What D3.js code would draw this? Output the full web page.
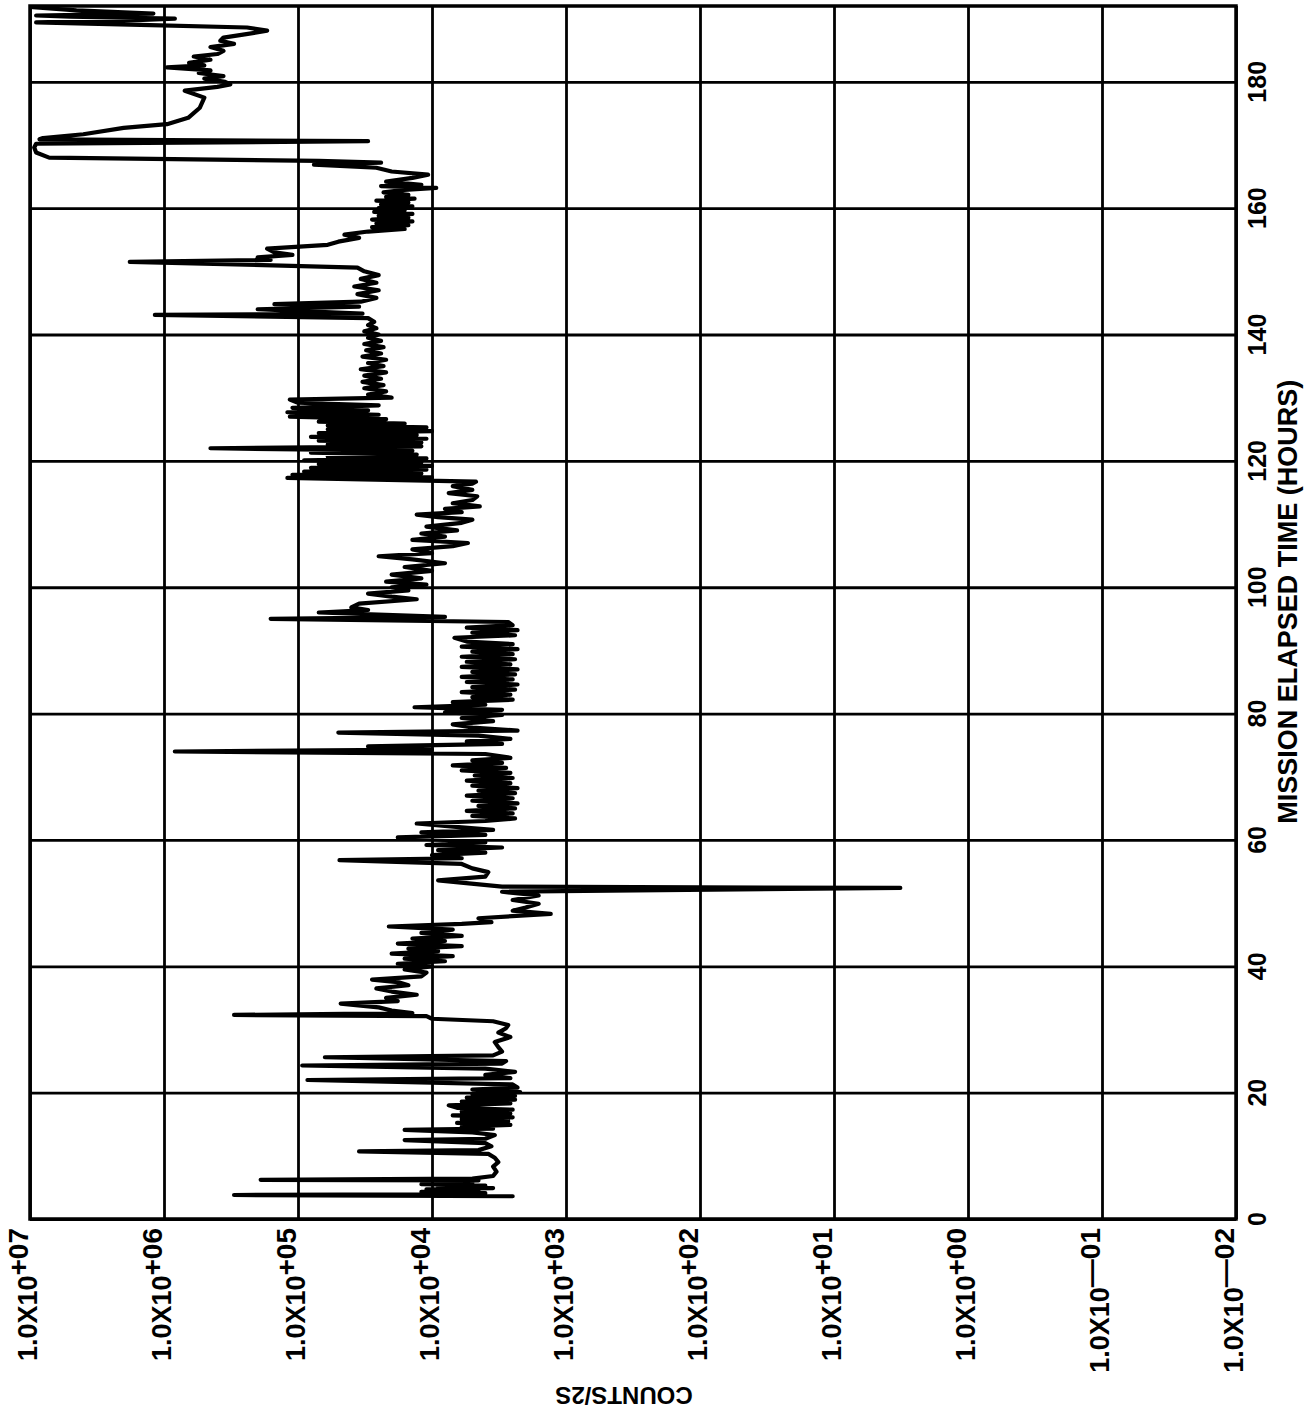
<!DOCTYPE html>
<html lang="en">
<head>
    <meta charset="UTF-8">
    <title>Counts vs Mission Elapsed Time</title>
    <script src="https://d3js.org/d3.v7.min.js"></script>
    <style>
        body {
            margin: 0;
            background-color: #ffffff;
        }
        text {
            font-family: 'Liberation Sans', Arial, sans-serif;
            font-weight: bold;
            fill: #000;
        }
        .grid line {
            stroke: #000;
            stroke-width: 2.8;
        }
        .grid path {
            display: none;
        }
    </style>
</head>
<body>
    <svg id="chart"></svg>

    <script>
        // tick values
        const decades = [7, 6, 5, 4, 3, 2, 1, 0, -1, -2];
        const hourTicks = [0, 20, 40, 60, 80, 100, 120, 140, 160, 180];

        // trace: hours and counts per 2 s
        const hours = [
            3.6, 3.8, 3.9, 4.1, 4.3, 4.5, 4.7, 4.9, 5.1, 5.3,
            5.5, 5.7, 5.9, 6.1, 6.2, 6.4, 6.8, 7.5, 8.3, 9.0,
            9.7, 10.3, 10.7, 10.9, 11.5, 12.0, 12.5, 12.7, 13.3, 13.7,
            14.1, 14.3, 14.6, 14.9, 15.2, 15.5, 15.8, 16.1, 16.4, 16.7,
            17.0, 17.3, 17.6, 18.0, 18.3, 18.6, 18.9, 19.2, 19.5, 19.8,
            20.1, 20.5, 20.8, 21.3, 22.0, 22.3, 22.8, 23.3, 23.8, 24.3,
            24.6, 25.0, 25.6, 25.9, 26.5, 27.2, 28.0, 28.8, 29.5, 30.2,
            30.7, 31.3, 31.7, 32.1, 32.3, 32.6, 33.0, 33.5, 34.1, 34.5,
            35.0, 35.5, 36.0, 36.5, 37.0, 37.5, 37.9, 38.4, 39.0, 39.5,
            40.0, 40.4, 40.8, 41.2, 41.6, 42.0, 42.4, 42.8, 43.2, 43.6,
            44.0, 44.4, 44.8, 45.3, 45.8, 46.3, 46.7, 47.0, 47.6, 48.3,
            48.8, 49.3, 49.9, 50.5, 51.2, 51.8, 52.4, 52.6, 53.6, 54.2,
            54.9, 55.5, 56.2, 56.8, 57.1, 57.6, 58.0, 58.4, 58.8, 59.2,
            59.6, 60.0, 60.4, 60.8, 61.2, 61.6, 62.0, 62.6, 63.0, 63.4,
            63.8, 64.2, 64.6, 65.0, 65.4, 65.8, 66.2, 66.6, 67.0, 67.4,
            67.8, 68.2, 68.6, 69.0, 69.4, 69.8, 70.2, 70.6, 71.0, 71.4,
            71.8, 72.2, 72.6, 73.0, 73.6, 74.0, 74.3, 74.8, 75.2, 75.6,
            76.0, 76.5, 77.0, 77.3, 77.8, 78.3, 78.8, 79.3, 79.8, 80.2,
            80.6, 81.0, 81.4, 81.8, 82.2, 82.6, 83.0, 83.4, 83.8, 84.2,
            84.6, 85.0, 85.4, 85.8, 86.2, 86.6, 87.0, 87.4, 87.8, 88.2,
            88.6, 89.0, 89.4, 89.8, 90.2, 90.6, 91.0, 91.4, 92.0, 92.4,
            92.8, 93.2, 93.6, 94.0, 94.5, 95.0, 95.3, 96.0, 96.4, 96.8,
            97.4, 98.1, 98.5, 99.0, 99.5, 100.0, 100.4, 100.9, 101.4, 102.0,
            102.6, 103.2, 103.8, 104.4, 104.9, 105.4, 106.0, 106.5, 107.0, 107.5,
            108.0, 108.5, 109.0, 109.6, 110.2, 110.7, 111.1, 111.5, 111.9, 112.4,
            112.8, 113.3, 113.8, 114.4, 114.9, 115.4, 116.0, 116.4, 116.7, 117.3,
            117.4, 117.8, 118.0, 118.3, 118.6, 118.9, 119.2, 119.5, 119.8, 120.1,
            120.4, 120.7, 121.0, 121.3, 121.6, 122.0, 122.3, 122.6, 122.9, 123.2,
            123.5, 123.8, 124.1, 124.4, 124.7, 125.0, 125.3, 125.6, 125.9, 126.2,
            126.6, 127.0, 127.3, 127.7, 128.0, 128.4, 128.8, 129.2, 129.7, 130.0,
            130.5, 131.0, 131.5, 132.0, 132.5, 133.0, 133.5, 134.0, 134.5, 135.0,
            135.5, 136.0, 136.5, 137.0, 137.5, 138.0, 138.5, 139.0, 139.5, 140.0,
            140.5, 141.0, 141.5, 142.0, 142.6, 143.1, 143.3, 144.0, 144.4, 144.8,
            145.2, 145.8, 146.4, 147.0, 147.6, 148.2, 148.8, 149.4, 150.0, 150.6,
            151.5, 151.8, 152.2, 152.6, 153.0, 153.6, 154.2, 154.7, 155.3, 155.8,
            156.3, 156.7, 157.0, 157.3, 157.6, 157.9, 158.2, 158.5, 158.8, 159.1,
            159.4, 159.7, 160.0, 160.3, 160.6, 160.9, 161.2, 161.5, 161.8, 162.1,
            162.5, 162.9, 163.2, 163.5, 163.7, 164.2, 164.8, 165.3, 165.8, 166.4,
            166.9, 167.2, 167.5, 168.0, 168.8, 169.6, 170.2, 170.6, 170.9, 171.1,
            171.7, 172.7, 173.3, 174.3, 175.9, 177.5, 178.6, 179.2, 179.6, 180.0,
            180.5, 180.9, 181.4, 181.8, 182.3, 182.6, 183.0, 183.5, 184.0, 184.4,
            184.9, 185.5, 186.0, 186.5, 187.0, 187.5, 188.1, 188.6, 189.0, 189.4,
            189.7, 190.0, 190.3, 190.5, 190.8, 191.3, 191.8
        ];
        const counts = [
            2.5e3, 3.0e5, 1.0e4, 4.0e3, 1.2e4, 4.5e3, 1.1e4, 3.5e3, 9e3, 4e3,
            1.2e4, 5e3, 1.0e4, 4.5e3, 1.9e5, 5e3, 3.5e3, 3.3e3, 3.5e3, 3.2e3,
            3.4e3, 3.8e3, 3.5e4, 4.5e3, 3.6e3, 4e3, 1.6e4, 4e3, 3.4e3, 5e3,
            1.6e4, 3.5e3, 6e3, 2.6e3, 6.5e3, 2.7e3, 6e3, 2.5e3, 7e3, 2.6e3,
            6e3, 2.5e3, 6.5e3, 7.5e3, 2.6e3, 6e3, 2.4e3, 5.5e3, 2.4e3, 5e3,
            2.2e3, 5e3, 2.3e3, 2.5e3, 8.5e4, 2.6e3, 4e3, 2.4e3, 4e3, 9.3e4,
            3e3, 2.8e3, 6.3e4, 3.5e3, 3e3, 3.2e3, 3.4e3, 2.6e3, 3.2e3, 2.8e3,
            2.7e3, 3.5e3, 1.0e4, 1.1e4, 3.0e5, 1.4e4, 2e4, 2.5e4, 4.8e4, 1.8e4,
            2.2e4, 1.3e4, 2.0e4, 2.6e4, 1.5e4, 1.8e4, 2.8e4, 1.2e4, 1.1e4, 1.6e4,
            1.0e4, 1.8e4, 8e3, 1.6e4, 7e3, 2e4, 9e3, 1.5e4, 6e3, 1.8e4,
            8e3, 1.4e4, 6e3, 1.2e4, 7e3, 2.1e4, 6e3, 3.6e3, 4.5e3, 1.3e3,
            2.5e3, 2.0e3, 1.6e3, 2.5e3, 1.6e3, 3e3, 3.2, 3e3, 9e3, 4e3,
            3.8e3, 5e3, 6e3, 4.9e4, 6e3, 1.0e4, 4e3, 9e3, 3e3, 1.1e4,
            4e3, 8e3, 1.8e4, 4e3, 1.2e4, 3.5e3, 6e3, 1.3e4, 4e3, 2.4e3,
            5e3, 2.5e3, 5.5e3, 2.4e3, 4.5e3, 2.3e3, 5e3, 2.5e3, 5.5e3, 2.4e3,
            4.5e3, 2.3e3, 5e3, 2.6e3, 5.5e3, 2.5e3, 4.8e3, 2.6e3, 6e3, 2.8e3,
            7e3, 3e3, 5e3, 2.6e3, 4e3, 8.3e5, 1.0e4, 3e4, 3e3, 5.5e3,
            2.6e3, 4.5e3, 5e4, 2.3e3, 5e3, 7e3, 3.5e3, 6e3, 3e3, 8e3,
            3e3, 1.35e4, 4e3, 7e3, 2.5e3, 5e3, 2.6e3, 6e3, 2.4e3, 5e3,
            2.3e3, 5.5e3, 2.5e3, 6e3, 2.4e3, 5e3, 2.3e3, 6e3, 2.6e3, 5.5e3,
            2.4e3, 6e3, 2.5e3, 5e3, 2.3e3, 6e3, 2.5e3, 5.5e3, 6.8e3, 2.4e3,
            5e3, 2.3e3, 5.5e3, 2.5e3, 2.7e3, 1.6e5, 8e3, 7e4, 3e4, 4e4,
            3.5e4, 1.3e4, 2e4, 3e4, 1.5e4, 2e4, 1.1e4, 2.2e4, 1.2e4, 2.0e4,
            1.0e4, 1.6e4, 8e3, 1.4e4, 2.5e4, 1.0e4, 1.4e4, 7e3, 5.4e3, 1.4e4,
            8e3, 1.2e4, 6.5e3, 1.1e4, 6e3, 5e3, 9e3, 1.3e4, 6e3, 8e3,
            4.4e3, 7e3, 5e3, 4.6e3, 7.5e3, 5e3, 7e3, 5e3, 4.7e3, 1.2e5,
            1.0e4, 1.1e5, 1.2e4, 9e4, 1.1e4, 8e4, 1.0e4, 7e4, 1.2e4, 9e4,
            1.1e4, 6e4, 1.3e4, 8e4, 1.4e4, 4.5e5, 1.2e4, 6e4, 1.2e4, 7e4,
            1.1e4, 8e4, 1.3e4, 7e4, 1.0e4, 6e4, 1.1e4, 6e4, 1.6e4, 7e4,
            2.2e4, 1.15e5, 2.5e4, 1.2e5, 3e4, 1.1e5, 2.5e4, 1.0e5, 1.15e5, 2.0e4,
            3e4, 2.2e4, 3.2e4, 2.3e4, 3.3e4, 2.4e4, 3.2e4, 2.2e4, 3.4e4, 2.3e4,
            3.0e4, 2.2e4, 3.3e4, 2.4e4, 3.1e4, 2.3e4, 3.2e4, 2.4e4, 3.0e4, 2.5e4,
            3.2e4, 2.6e4, 3.0e4, 2.7e4, 3.0e4, 1.17e6, 3.3e4, 2.0e5, 3.5e4, 1.5e5,
            3.4e4, 2.6e4, 3.6e4, 2.5e4, 3.8e4, 2.6e4, 3.4e4, 2.5e4, 3.2e4, 3.6e4,
            1.8e6, 1.6e5, 2e5, 1.1e5, 1.5e5, 1.7e5, 6e4, 5e4, 3.5e4, 4.5e4,
            3.0e4, 1.6e4, 2.8e4, 1.5e4, 2.6e4, 1.4e4, 2.8e4, 1.5e4, 2.5e4, 1.4e4,
            2.7e4, 1.6e4, 2.5e4, 1.4e4, 2.4e4, 1.5e4, 2.6e4, 1.35e4, 2.2e4, 1.5e4,
            2.3e4, 1.6e4, 9.3e3, 2.4e4, 1.2e4, 2.2e4, 1.4e4, 1.07e4, 2.0e4, 2.6e4,
            7.6e4, 2.4e4, 7e4, 7.2e6, 9e6, 9.3e6, 9e6, 3.0e4, 8.5e6, 8e6,
            4e6, 2e6, 9.5e5, 6.6e5, 5.4e5, 5e5, 7e5, 4e5, 3.2e5, 3.5e5,
            5e5, 3.6e5, 5.5e5, 4.5e5, 9.5e5, 5e5, 6.5e5, 4.5e5, 6e5, 4e5,
            3.6e5, 4.5e5, 3e5, 3.8e5, 3.6e5, 2.5e5, 1.7e5, 2.4e5, 1.5e6, 9e6,
            2e6, 8.3e5, 5e6, 9e6, 1.2e6, 4.5e6, 9.5e6
        ];

        const W = 1306, H = 1411;
        const plot = {left: 30, right: 1236, top: 6, bottom: 1219};

        const svg = d3.select("#chart")
            .attr("width", W)
            .attr("height", H)
            .style("background", "#fff");

        // counts run left to right (high to low), hours run bottom to top
        const x = d3.scaleLog()
            .domain([1e7, 1e-2])
            .range([plot.left, plot.right]);

        const y = d3.scaleLinear()
            .domain([0, 192])
            .range([plot.bottom, plot.top]);

        // grid
        svg.append("g")
            .attr("class", "grid")
            .attr("transform", `translate(0,${plot.bottom})`)
            .call(d3.axisBottom(x)
                .tickValues(decades.map(e => Math.pow(10, e)))
                .tickSize(-(plot.bottom - plot.top))
                .tickFormat(""));

        svg.append("g")
            .attr("class", "grid")
            .attr("transform", `translate(${plot.right},0)`)
            .call(d3.axisRight(y)
                .tickValues(hourTicks)
                .tickSize(-(plot.right - plot.left))
                .tickFormat(""));

        svg.append("rect")
            .attr("x", plot.left)
            .attr("y", plot.top)
            .attr("width", plot.right - plot.left)
            .attr("height", plot.bottom - plot.top)
            .attr("fill", "none")
            .attr("stroke", "#000")
            .attr("stroke-width", 3.5);

        // trace
        const trace = hours.map((h, i) => ({h: h, c: counts[i]}));
        const line = d3.line()
            .x(d => x(d.c))
            .y(d => y(d.h));

        svg.append("path")
            .datum(trace)
            .attr("d", line)
            .attr("fill", "none")
            .attr("stroke", "#000")
            .attr("stroke-width", 4.2)
            .attr("stroke-linejoin", "round")
            .attr("stroke-linecap", "round");

        // bottom tick labels, written sideways
        const expo = e => (e < 0 ? "\u2014" : "+") + String(Math.abs(e)).padStart(2, "0");
        decades.forEach(e => {
            const t = svg.append("text")
                .attr("transform", `translate(${x(Math.pow(10, e)) - 2},${plot.bottom + 9}) rotate(-90)`)
                .attr("text-anchor", "end")
                .attr("dominant-baseline", "central")
                .style("font-size", "27px");
            t.append("tspan").text("1.0X10");
            t.append("tspan")
                .attr("dy", "-10")
                .style("font-size", "28px")
                .text(expo(e));
        });

        // right tick labels
        hourTicks.forEach(h => {
            svg.append("text")
                .attr("transform", `translate(1257,${y(h)}) rotate(-90)`)
                .attr("text-anchor", "middle")
                .attr("dominant-baseline", "central")
                .style("font-size", "25px")
                .text(h);
        });

        svg.append("text")
            .attr("transform", `translate(1288,${y(97.7)}) rotate(-90)`)
            .attr("text-anchor", "middle")
            .attr("dominant-baseline", "central")
            .style("font-size", "27px")
            .text("MISSION ELAPSED TIME (HOURS)");

        // upside-down axis title as in the original
        svg.append("text")
            .attr("transform", `translate(624,1395) rotate(180)`)
            .attr("text-anchor", "middle")
            .attr("dominant-baseline", "central")
            .style("font-size", "24px")
            .text("COUNTS/2S");
    </script>
</body>
</html>
